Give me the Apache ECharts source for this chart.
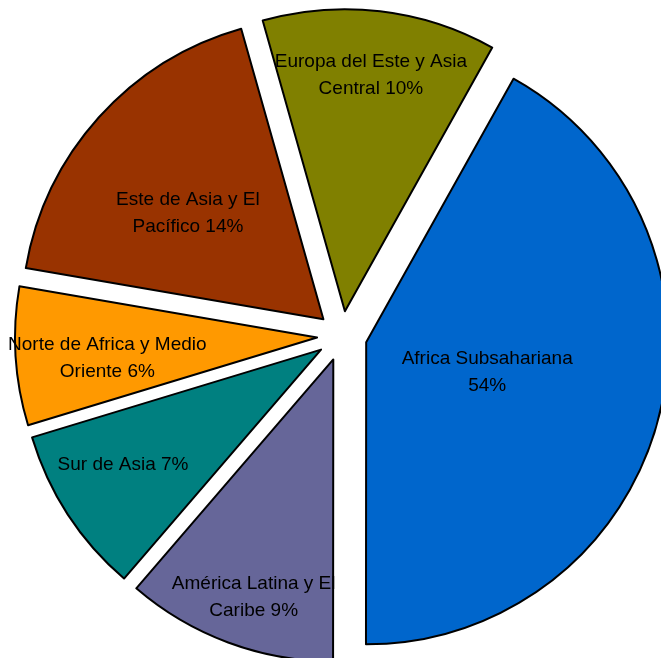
<!DOCTYPE html>
<html><head><meta charset="utf-8">
<script src="https://cdn.jsdelivr.net/npm/echarts@6/dist/echarts.min.js"></script>
<style>html,body{margin:0;padding:0;background:#fff}#c{width:661px;height:658px}</style>
</head><body><div id="c"></div>
<script>
// ---- data ----
const categories = ['Africa Subsahariana', 'América Latina y El Caribe', 'Sur de Asia',
  'Norte de Africa y Medio Oriente', 'Este de Asia y El Pacífico', 'Europa del Este y Asia Central'];
// wedge sizes as drawn in the picture (share of the circle, %)
const wedgeShare = [41.9, 11.3, 9.0, 7.4, 17.9, 12.5];
// percentages printed in the labels
const labelPercent = [54, 9, 7, 6, 14, 10];
// label text (before the percentage), with the original line breaks
const labelText = ['Africa Subsahariana\n', 'América Latina y El\nCaribe ', 'Sur de Asia ',
  'Norte de Africa y Medio\nOriente ', 'Este de Asia y El\nPacífico ', 'Europa del Este y Asia\nCentral '];

// ---- styling ----
const colors = ['#0066CC', '#666699', '#008080', '#FF9900', '#993300', '#808000'];
const labelShift = [[-28, -9], [-26, 93], [-69, 31], [-56, 11], [-21, -3], [8, -83]];

const chart = echarts.init(document.getElementById('c'), null, {renderer: 'canvas'});
const seriesData = categories.map((name, i) => ({
  name: name,
  value: wedgeShare[i],
  selected: true,
  itemStyle: {color: colors[i]},
  label: {formatter: labelText[i] + labelPercent[i] + '%'}
}));
chart.setOption({
  animation: false,
  series: [{
    type: 'pie',
    center: [342, 336],
    radius: 302,
    startAngle: 60.8,
    clockwise: true,
    selectedMode: 'multiple',
    selectedOffset: 25,
    silent: true,
    avoidLabelOverlap: false,
    itemStyle: {borderColor: '#000', borderWidth: 2},
    select: {itemStyle: {borderColor: '#000', borderWidth: 2}},
    emphasis: {disabled: true, scale: false},
    label: {
      show: true,
      position: 'inside',
      color: '#000',
      fontFamily: '"Liberation Sans Narrow", "Arial Narrow", "Liberation Sans", Arial, sans-serif',
      fontSize: 19,
      lineHeight: 27,
      align: 'center'
    },
    labelLine: {show: false},
    labelLayout: function (p) {
      const s = labelShift[p.dataIndex];
      return {dx: s[0], dy: s[1]};
    },
    data: seriesData
  }]
});
</script>
</body></html>
